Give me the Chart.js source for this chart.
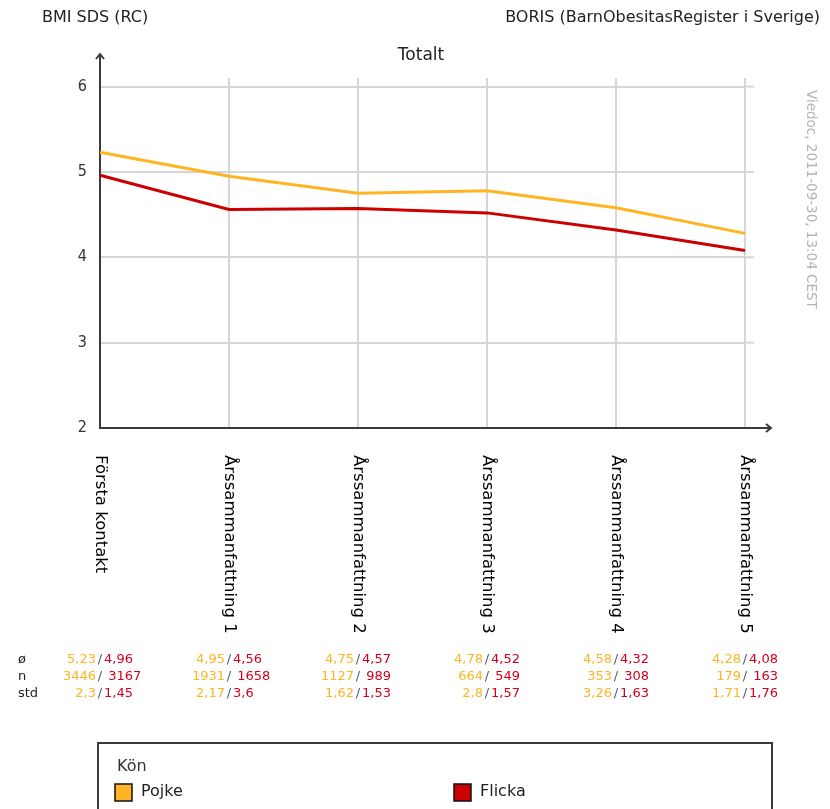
<!DOCTYPE html>
<html>
<head>
<meta charset="utf-8">
<script src="https://cdn.jsdelivr.net/npm/chart.js@4.4.0/dist/chart.umd.min.js"></script>
<style>
  html, body { margin: 0; padding: 0; background: #fff; }
  canvas { display: block; }
</style>
</head>
<body>
<canvas id="chart" width="830" height="809"></canvas>
<script>
// data
const categories = ["Första kontakt", "Årssammanfattning 1", "Årssammanfattning 2", "Årssammanfattning 3", "Årssammanfattning 4", "Årssammanfattning 5"]
const pojkeMean = [5.23, 4.95, 4.75, 4.78, 4.58, 4.28]
const flickaMean = [4.96, 4.56, 4.57, 4.52, 4.32, 4.08]
const pojkeN = [3446, 1931, 1127, 664, 353, 179]
const flickaN = [3167, 1658, 989, 549, 308, 163]
const pojkeStd = [2.3, 2.17, 1.62, 2.8, 3.26, 1.71]
const flickaStd = [1.45, 3.6, 1.53, 1.57, 1.63, 1.76]
const yTicks = [2, 3, 4, 5, 6]

const YELLOW = "rgb(255,180,36)"
const RED = "rgb(204,0,0)"
const GRID = "#d6d6d6"
const AXIS = "#3a3a3a"
const FONT = "'DejaVu Sans', sans-serif"
const FONT_C = "'DejaVu Sans Condensed', 'DejaVu Sans', sans-serif"

// svenska decimaler
function fmt(v) {
    return String(v).replace(".", ",")
}

// allt som inte är linjer: rubriker, pilar, etiketter, tabell, legend
const extras = {
    id: "extras",
    afterDraw(chart) {
        const ctx = chart.ctx
        const area = chart.chartArea
        const x = chart.scales.x
        const y = chart.scales.y
        ctx.save()

        // förlängda gridlinjer till höger
        ctx.strokeStyle = GRID
        ctx.lineWidth = 2
        for (const t of yTicks.slice(1)) {
            const py = y.getPixelForValue(t)
            ctx.beginPath()
            ctx.moveTo(area.right, py)
            ctx.lineTo(area.right + 9, py)
            ctx.stroke()
        }

        // axlar med pilar
        ctx.strokeStyle = AXIS
        ctx.lineWidth = 2
        ctx.beginPath()
        ctx.moveTo(area.left, area.top)
        ctx.lineTo(area.left, 54)
        ctx.moveTo(area.left - 4, 59)
        ctx.lineTo(area.left, 54)
        ctx.lineTo(area.left + 4, 59)
        ctx.moveTo(area.right, area.bottom)
        ctx.lineTo(771, area.bottom)
        ctx.moveTo(766, area.bottom - 4)
        ctx.lineTo(771, area.bottom)
        ctx.lineTo(766, area.bottom + 4)
        ctx.stroke()

        // rubriker
        ctx.fillStyle = "#222"
        ctx.textBaseline = "middle"
        ctx.font = "16px " + FONT
        ctx.textAlign = "left"
        ctx.fillText("BMI SDS (RC)", 42, 18)
        ctx.textAlign = "right"
        ctx.fillText("BORIS (BarnObesitasRegister i Sverige)", 820, 18)
        ctx.textAlign = "center"
        ctx.font = "17px " + FONT
        ctx.fillText("Totalt", 421, 56)

        // vattenstämpel
        ctx.save()
        ctx.translate(810, 90)
        ctx.rotate(Math.PI / 2)
        ctx.fillStyle = "#b4b4b4"
        ctx.font = "13.5px " + FONT
        ctx.textAlign = "left"
        ctx.fillText("Viedoc, 2011-09-30, 13:04 CEST", 0, 0)
        ctx.restore()

        // kategorier, roterade medurs
        ctx.fillStyle = "#000"
        ctx.font = "16.5px " + FONT
        categories.forEach((label, i) => {
            ctx.save()
            ctx.translate(x.getPixelForValue(i), 455)
            ctx.rotate(Math.PI / 2)
            ctx.textAlign = "left"
            ctx.fillText(label, 0, 0)
            ctx.restore()
        })

        // tabell under diagrammet
        const rows = [
            ["ø", pojkeMean, flickaMean, "", 660],
            ["n", pojkeN, flickaN, " ", 677],
            ["std", pojkeStd, flickaStd, "", 694]
        ]
        ctx.font = "13px " + FONT
        for (const [name, a, b, gap, py] of rows) {
            ctx.fillStyle = "#222"
            ctx.textAlign = "left"
            ctx.fillText(name, 18, py)
            categories.forEach((c, i) => {
                const px = x.getPixelForValue(i)
                ctx.textAlign = "center"
                ctx.fillStyle = "#4a5a7a"
                ctx.fillText("/", px, py)
                ctx.textAlign = "right"
                ctx.fillStyle = YELLOW
                ctx.fillText(fmt(a[i]), px - 4, py)
                ctx.textAlign = "left"
                ctx.fillStyle = "rgb(210,0,30)"
                ctx.fillText(gap + fmt(b[i]), px + 4, py)
            })
        }

        // legend
        ctx.strokeStyle = AXIS
        ctx.lineWidth = 2
        ctx.strokeRect(98, 743, 674, 100)
        ctx.font = "16px " + FONT
        ctx.textAlign = "left"
        ctx.fillStyle = "#333"
        ctx.fillText("Kön", 117, 767)
        chart.data.datasets.forEach((ds, i) => {
            const lx = i === 0 ? 115 : 454
            ctx.fillStyle = ds.borderColor
            ctx.fillRect(lx, 784, 17, 17)
            ctx.strokeStyle = "#111"
            ctx.lineWidth = 1.5
            ctx.strokeRect(lx, 784, 17, 17)
            ctx.fillStyle = "#222"
            ctx.fillText(ds.label, lx + 26, 792)
        })

        ctx.restore()
    }
}

const chartData = {
    labels: categories,
    datasets: [
        { label: "Pojke", data: pojkeMean, borderColor: YELLOW, backgroundColor: YELLOW, borderWidth: 3, pointRadius: 0, tension: 0 },
        { label: "Flicka", data: flickaMean, borderColor: RED, backgroundColor: RED, borderWidth: 3, pointRadius: 0, tension: 0 }
    ]
}

const chartConfig = {
    type: "line",
    data: chartData,
    options: {
        responsive: false,
        animation: false,
        layout: { padding: { top: 78, right: 85, left: 0, bottom: 0 } },
        plugins: {
            legend: { display: false },
            tooltip: { enabled: false }
        },
        scales: {
            x: {
                type: "category",
                offset: false,
                grid: { color: GRID, lineWidth: 2, drawTicks: false },
                border: { display: true, color: AXIS, width: 2 },
                ticks: { display: false },
                afterFit: s => { s.height = 381 }
            },
            y: {
                min: 2,
                max: 6.1,
                afterBuildTicks: s => { s.ticks = yTicks.map(v => ({ value: v })) },
                grid: { color: GRID, lineWidth: 2, drawTicks: false },
                border: { display: true, color: AXIS, width: 2 },
                ticks: { color: "#333", padding: 13, font: { size: 16, family: FONT_C } },
                afterFit: s => { s.width = 100 }
            }
        }
    },
    plugins: [extras]
}

new Chart(document.getElementById("chart"), chartConfig)
</script>
</body>
</html>
